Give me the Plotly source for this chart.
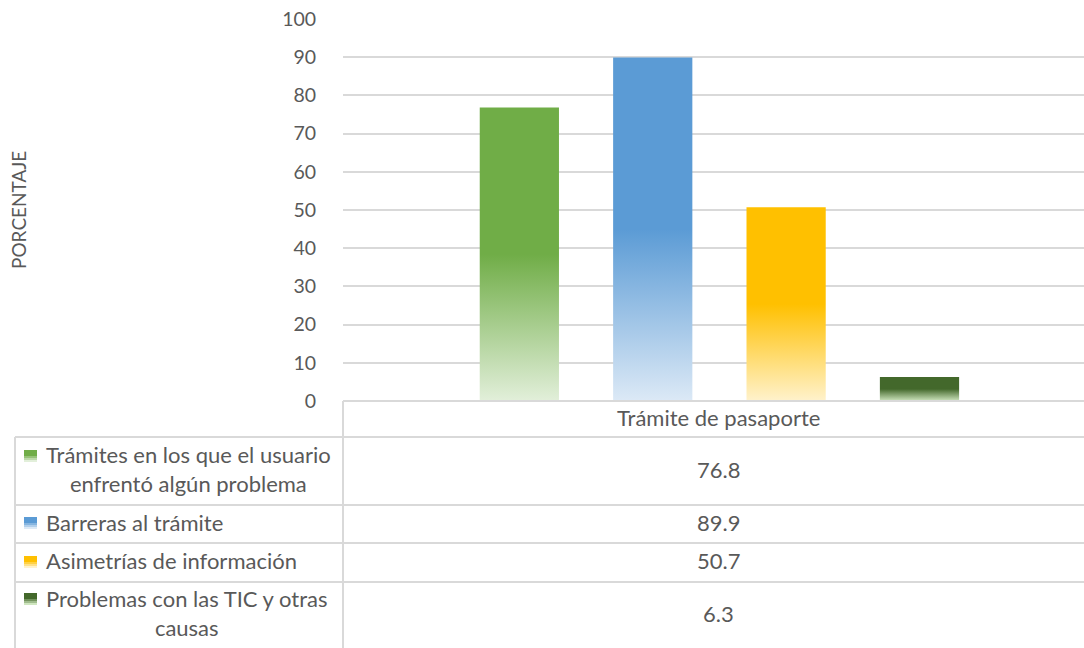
import plotly.graph_objects as go

# ---- data -------------------------------------------------------------
category = "Trámite de pasaporte"
series_names = [
    "Trámites en los que el usuario<br>enfrentó algún problema",
    "Barreras al trámite",
    "Asimetrías de información",
    "Problemas con las TIC y otras<br>causas",
]
values = [76.8, 89.9, 50.7, 6.3]
y_ticks = list(range(0, 101, 10))

# ---- styling ----------------------------------------------------------
colors = ["#70ad47", "#5b9bd5", "#ffc000", "#43682b"]
light_colors = ["#e2efda", "#dce9f6", "#fff2cc", "#cfe6bf"]
FONT = "Lato"
TXT = "#595959"
GRID = "#d9d9d9"
TABLE_SIZE = 22

W, H = 1084, 648
PL, PR, PT, PB = 343, 1084, 19, 401  # plot area in pixels

bargap, groupgap = 0.28, 0.406
n = len(values)
slot = (1 - bargap) / n
bw = slot * (1 - groupgap)


def px(x):
    return (x - PL) / (PR - PL)


def py(y):
    return (PB - y) / (PB - PT)


def hex2rgb(h):
    h = h.lstrip("#")
    return tuple(int(h[i:i + 2], 16) for i in (0, 2, 4))


def mix(c1, c2, t):
    a, b = hex2rgb(c1), hex2rgb(c2)
    return "rgb(%d,%d,%d)" % tuple(round(a[k] + (b[k] - a[k]) * t) for k in range(3))


fig = go.Figure()

# bars drawn as filled polygons with a vertical gradient
for i, (name, v) in enumerate(zip(series_names, values)):
    c = -0.5 * (1 - bargap) + slot * (i + 0.5)
    x0, x1 = c - bw / 2, c + bw / 2
    fig.add_trace(go.Scatter(
        x=[x0, x1, x1, x0, x0],
        y=[0, 0, v, v, 0],
        mode="lines",
        line=dict(width=0),
        fill="toself",
        fillcolor=colors[i],
        fillgradient=dict(
            type="vertical",
            start=0,
            stop=v,
            colorscale=[[0, light_colors[i]], [0.5, colors[i]], [1, colors[i]]],
        ),
        name=name.replace("<br>", " "),
        hoverinfo="skip",
        showlegend=False,
    ))

shapes = []
annotations = []

# data table lines
line = dict(color=GRID, width=2)
row_y = [401, 437, 505, 543, 582, 648]
shapes.append(dict(type="line", xref="paper", yref="paper",
                   x0=px(PL), x1=px(PR), y0=py(401), y1=py(401), line=line))
for yy in row_y[1:-1]:
    shapes.append(dict(type="line", xref="paper", yref="paper",
                       x0=px(15), x1=px(PR), y0=py(yy), y1=py(yy), line=line))
shapes.append(dict(type="line", xref="paper", yref="paper",
                   x0=px(15), x1=px(15), y0=py(437), y1=py(H), line=line))
shapes.append(dict(type="line", xref="paper", yref="paper",
                   x0=px(PL), x1=px(PL), y0=py(401), y1=py(H), line=line))

TEXT_SHIFT = -2

# header
annotations.append(dict(xref="paper", yref="paper", x=px(718), y=py(419 + TEXT_SHIFT),
                        text=category, showarrow=False, xanchor="center", yanchor="middle",
                        font=dict(family=FONT, size=TABLE_SIZE, color=TXT)))

# rows: legend key, series label, value
row_centers = [(row_y[k] + row_y[k + 1]) / 2 + TEXT_SHIFT for k in range(1, 5)]
key_y = [456, 523, 562, 599]
for i, (name, v) in enumerate(zip(series_names, values)):
    # legend key with a small gradient
    steps = 6
    top, size = key_y[i] - 6, 12
    for s in range(steps):
        y0 = top + size * s / steps
        y1 = top + size * (s + 1) / steps
        col = colors[i] if s < steps // 2 else mix(colors[i], light_colors[i], (s - steps // 2 + 1) / (steps - steps // 2))
        shapes.append(dict(type="rect", xref="paper", yref="paper",
                           x0=px(24), x1=px(37), y0=py(y1), y1=py(y0),
                           fillcolor=col, line=dict(width=0)))
    annotations.append(dict(xref="paper", yref="paper", x=px(44), y=py(row_centers[i]),
                            text=name, showarrow=False, xanchor="left", yanchor="middle",
                            align="center",
                            font=dict(family=FONT, size=TABLE_SIZE, color=TXT)))
    annotations.append(dict(xref="paper", yref="paper", x=px(718), y=py(row_centers[i]),
                            text=f"{v:.1f}", showarrow=False, xanchor="center", yanchor="middle",
                            font=dict(family=FONT, size=TABLE_SIZE, color=TXT)))

# y axis title
annotations.append(dict(xref="paper", yref="paper", x=px(18), y=py(210),
                        text="PORCENTAJE", textangle=-90, showarrow=False,
                        xanchor="center", yanchor="middle",
                        font=dict(family=FONT, size=19, color=TXT)))

fig.update_layout(
    width=W, height=H,
    margin=dict(l=PL, r=W - PR, t=PT, b=H - PB),
    paper_bgcolor="white",
    plot_bgcolor="white",
    showlegend=False,
    shapes=shapes,
    annotations=annotations,
    xaxis=dict(range=[-0.508, 0.492], showticklabels=False, showgrid=False,
               zeroline=False, fixedrange=True),
    yaxis=dict(range=[0, 100], tickvals=y_ticks, showgrid=True, gridcolor=GRID,
               gridwidth=1.5, zeroline=False, showline=False,
               ticks="outside", ticklen=22, tickcolor="rgba(0,0,0,0)",
               tickfont=dict(family=FONT, size=19.5, color=TXT)),
)

fig.write_html("out.html")
